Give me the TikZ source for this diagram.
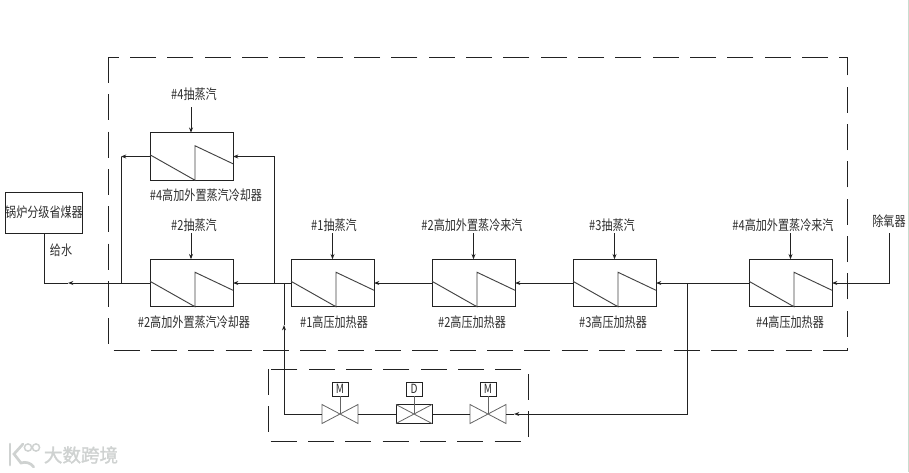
\documentclass[tikz,border=0pt]{standalone}
\usepackage{fontspec}
\setmainfont{Noto Sans CJK SC}[FakeStretch=0.8]
\newfontfamily\wmfont{Noto Sans CJK SC}[FakeBold=1.5]
\usetikzlibrary{arrows.meta,calc}
\definecolor{ink}{HTML}{222222}
\definecolor{txt}{HTML}{2F2F2F}
\definecolor{wm}{HTML}{CFD2D1}
\definecolor{edge}{HTML}{C9DDD0}
\tikzset{
  pipe/.style={draw=ink,line width=0.74pt},
  tip/.style={-{Stealth[length=4pt,width=3pt]}},
  dashbox/.style={draw=ink,line width=0.74pt,dash pattern=on 19.5pt off 8.5pt},
  hx/.style={draw=ink,line width=0.74pt,minimum width=62.25pt,minimum height=35.6pt,inner sep=0pt,outer sep=0pt},
  lbl/.style={text=txt,font=\fontsize{10.4pt}{11pt}\selectfont,inner sep=0pt},
  valve/.style={minimum width=27pt,minimum height=14.25pt,inner sep=0pt,outer sep=0pt},
  act/.style={draw=ink,line width=0.74pt,minimum width=12pt,minimum height=10.5pt,inner sep=0pt,outer sep=0pt,text=txt,font=\fontsize{9.5pt}{10pt}\selectfont},
  vline/.style={draw=ink!70,line width=0.6pt},
}
\begin{document}
\begin{tikzpicture}[x=0.75pt,y=-0.75pt]
\useasboundingbox (0,0) rectangle (909,472);
\fill[white] (0,0) rectangle (909,472);
\fill[edge] (907.5,0) rectangle (909,472);
% dashed enclosures
\draw[dashbox] (108,57) rectangle (847,350);
\draw[dashbox] (268,369) rectangle (528,441);
% boxes
\node[draw=ink,line width=0.74pt,minimum width=57.75pt,minimum height=30.75pt,inner sep=0pt,outer sep=0pt] (boiler) at (43.5,212.5) {};
\node[hx] (c4) at (191.5,156.5) {};
\node[hx] (c2) at (191.5,283) {};
\node[hx] (h1) at (332.5,283) {};
\node[hx] (h2) at (473.5,283) {};
\node[hx] (h3) at (614.5,283) {};
\node[hx] (h4) at (790.5,283) {};
\foreach \n in {c4,c2,h1,h2,h3,h4}{
  \draw[draw=ink!85,line width=0.7pt]
    ([yshift=-16.5pt]\n.north west) -- ([xshift=33.75pt]\n.south west)
    -- ([xshift=33.75pt,yshift=-9.75pt]\n.north west)
    -- ([yshift=-23.25pt]\n.north east);
}
% labels
\node[lbl] (t1) at (194,94) {\#4抽蒸汽};
\node[lbl] (t2) at (206,195) {\#4高加外置蒸汽冷却器};
\node[lbl] (t3) at (44,212) {锅炉分级省煤器};
\node[lbl] (t4) at (61,250) {给水};
\node[lbl] (t5) at (194,225) {\#2抽蒸汽};
\node[lbl] (t6) at (194,322) {\#2高加外置蒸汽冷却器};
\node[lbl] (t7) at (334,225) {\#1抽蒸汽};
\node[lbl] (t8) at (334,322) {\#1高压加热器};
\node[lbl] (t9) at (472,225) {\#2高加外置蒸冷来汽};
\node[lbl] (t10) at (472,322) {\#2高压加热器};
\node[lbl] (t11) at (612,225) {\#3抽蒸汽};
\node[lbl] (t12) at (613,322) {\#3高压加热器};
\node[lbl] (t13) at (783,225) {\#4高加外置蒸冷来汽};
\node[lbl] (t14) at (790,322) {\#4高压加热器};
\node[lbl] (t15) at (889,221) {除氧器};
% steam feeds
\coordinate (s1) at (191,107);
\coordinate (s2) at (191,233);
\coordinate (s3) at (332.5,233);
\coordinate (s4) at (473.5,233);
\coordinate (s5) at (614.5,233);
\coordinate (s6) at (790.5,233);
\draw[pipe,tip] (s1) -- (s1 |- c4.north);
\draw[pipe,tip] (s2) -- (s2 |- c2.north);
\draw[pipe,tip] (s3) -- (h1.north);
\draw[pipe,tip] (s4) -- (h2.north);
\draw[pipe,tip] (s5) -- (h3.north);
\draw[pipe,tip] (s6) -- (h4.north);
% main line
\coordinate (d) at (889,233);
\coordinate (d2) at (889,283);
\draw[pipe,tip] (d) -- (d2) -- (h4.east);
\draw[pipe] (h4.west) -- (687,283);
\draw[pipe,tip] (687,283) -- (h3.east);
\draw[pipe,tip] (h3.west) -- (h2.east);
\draw[pipe,tip] (h2.west) -- (h1.east);
\draw[pipe,tip] (h1.west) -- (c2.east);
\coordinate (a1) at (68,283);
\coordinate (a2) at (44,283);
\draw[pipe,tip] (c2.west) -- (a1);
\draw[pipe] (a1) -- (a2) -- (boiler.south -| a2);
% cooler branch
\coordinate (j1) at (274,283);
\coordinate (j2) at (274,156.5);
\coordinate (j3) at (121,283);
\coordinate (j4) at (121,156.5);
\draw[pipe,tip] (j1) -- (j2) -- (c4.east);
\draw[pipe,tip] (c4.west) -- (j4);
\draw[pipe] (j4) -- (j3);
% valves
\node[valve] (v1) at (340,414) {};
\node[valve] (v2) at (414,414) {};
\node[valve] (v3) at (488,414) {};
\foreach \v in {v1,v3}
  \draw[vline] (\v.south west) -- (\v.north east) -- (\v.south east) -- (\v.north west) -- cycle;
\draw[draw=ink,line width=0.74pt] (v2.south west) rectangle (v2.north east);
\draw[vline] (v2.south west) -- (v2.north east) (v2.north west) -- (v2.south east);
\node[act] (m1) at (340,389) {M};
\node[act] (m2) at (414,389) {D};
\node[act] (m3) at (488,389) {M};
\draw[vline] (m1.south) -- (v1.center);
\draw[vline] (m2.south) -- (v2.center);
\draw[vline] (m3.south) -- (v3.center);
% bypass
\coordinate (b1) at (687,283);
\coordinate (b2) at (687,414);
\coordinate (b3) at (514,414);
\draw[pipe,tip] (b1) -- (b2) -- (b3);
\draw[pipe] (b3) -- (v3.east);
\draw[pipe] (v3.west) -- (v2.east);
\draw[pipe] (v2.west) -- (v1.east);
\coordinate (e1) at (284,414);
\coordinate (e2) at (284,325);
\coordinate (e3) at (284,283);
\draw[pipe,tip] (v1.west) -- (e1) -- (e2);
\draw[pipe] (e2) -- (e3);
% watermark
\begin{scope}[draw=wm,line width=2pt,line cap=round]
  \draw (10,444) -- (10,465);
  \draw (23,444) -- (14,454) -- (21,463) arc[start angle=250,end angle=325,radius=11];
  \draw[line width=1.1pt] (28,447.5) circle[radius=3.6];
  \draw[line width=1.1pt] (36,447.5) circle[radius=3.6];
\end{scope}
\node[text=wm,inner sep=0pt,font=\wmfont\fontsize{13.9pt}{14pt}\selectfont] (wm) at (81,455) {大数跨境};
\end{tikzpicture}
\end{document}
